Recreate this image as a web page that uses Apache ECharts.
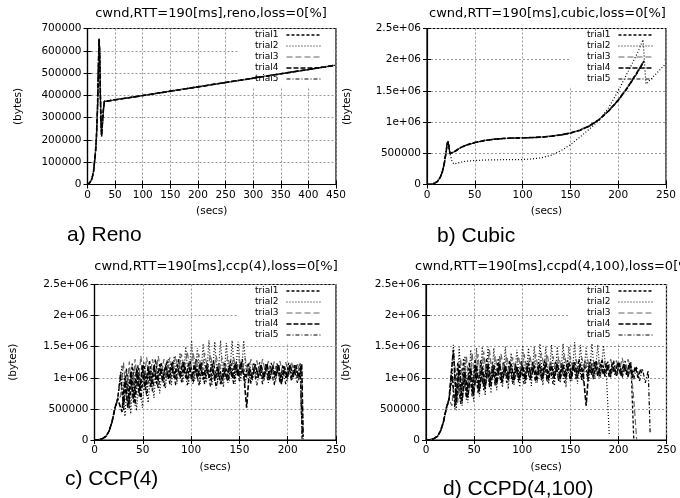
<!DOCTYPE html>
<html><head><meta charset="utf-8">
<script src="https://cdn.jsdelivr.net/npm/echarts@6/dist/echarts.min.js"></script>
<style>html,body{margin:0;padding:0;background:#fff}#c{width:680px;height:498px}</style>
</head><body><div id="c"></div>
<script>
// ---------- text ----------
const trialNames = ['trial1', 'trial2', 'trial3', 'trial4', 'trial5'];
const panelTitles = ['cwnd,RTT=190[ms],reno,loss=0[%]', 'cwnd,RTT=190[ms],cubic,loss=0[%]', 'cwnd,RTT=190[ms],ccp(4),loss=0[%]', 'cwnd,RTT=190[ms],ccpd(4,100),loss=0[%]'];
const panelCaptions = ['a) Reno', 'b) Cubic', 'c) CCP(4)', 'd) CCPD(4,100)'];
const xAxisName = '(secs)';
const yAxisName = '(bytes)';
const renoYTickLabels = ['0', '100000', '200000', '300000', '400000', '500000', '600000', '700000'];
const bytesYTickLabels = ['0', '500000', '1e+06', '1.5e+06', '2e+06', '2.5e+06'];

// ---------- a) Reno ----------
const aTime = [0,4,8,11,14,16,18,19,20,21,22,23,24,25.5,27,29,30.5,50,100,150,200,250,300,350,400,448];
const aTrial1 = [0,8000,25000,60000,130000,200000,330000,430000,560000,655000,600000,450000,320000,215000,270000,340000,373000,380000,399000,419000,438000,458000,477000,497000,516000,535000];
const aTrial2 = [0,8000,26000,62000,135000,210000,340000,440000,570000,650000,590000,440000,310000,222000,280000,345000,374000,381000,400000,420000,439000,459000,478000,498000,517000,536000];
const aTrial3 = [0,7000,24000,58000,125000,195000,320000,420000,550000,645000,610000,460000,330000,218000,265000,335000,371000,379000,398000,418000,437000,457000,476000,496000,515000,534000];
const aTrial4 = [0,8000,25000,61000,132000,205000,335000,435000,565000,652000,595000,445000,315000,220000,275000,342000,372000,380000,399000,419000,438000,458000,477000,497000,516000,535000];
const aTrial5 = [0,8000,25000,60000,128000,198000,325000,425000,555000,648000,605000,455000,325000,216000,268000,338000,372000,380000,399000,418000,438000,457000,477000,496000,516000,535000];

// ---------- b) Cubic ----------
const bTime = [0,4,8,11,14,16,18,20,21,22,23,24,26,28,30,35,40,50,60,70,80,90,100,110,120,130,140,150,160,170,180,190,200,210,220,227];
const bTrial1 = [0,5000,20000,50000,120000,200000,330000,520000,650000,690000,600000,495000,505000,520000,550000,590000,625000,672000,705000,725000,738000,745000,748000,752000,760000,775000,795000,825000,870000,940000,1040000,1180000,1350000,1560000,1800000,1980000];
const b2Time = [0,4,8,11,14,16,18,20,21,22,23,24,26,28,30,40,50,60,80,100,110,120,130,140,150,160,170,180,190,200,210,220,226,229,240,250];
const bTrial2 = [0,5000,20000,50000,120000,200000,330000,520000,650000,690000,600000,500000,380000,330000,345000,372000,385000,392000,398000,400000,410000,430000,470000,540000,638000,760000,890000,1030000,1230000,1500000,1800000,2100000,2320000,1610000,1780000,1940000];
const bTrial3 = [0,5000,19000,48000,115000,195000,320000,510000,640000,685000,610000,500000,510000,525000,552000,592000,628000,675000,707000,727000,740000,746000,749000,753000,762000,777000,798000,828000,875000,945000,1045000,1190000,1360000,1570000,1810000,1990000];
const bTrial4 = [0,5000,20000,50000,120000,200000,330000,520000,650000,690000,600000,495000,505000,520000,550000,590000,625000,672000,705000,725000,738000,745000,748000,752000,760000,775000,795000,825000,870000,940000,1040000,1180000,1350000,1560000,1800000,1975000];
const bTrial5 = [0,6000,21000,52000,125000,205000,340000,530000,660000,695000,590000,490000,500000,518000,548000,588000,622000,670000,703000,723000,736000,743000,747000,751000,758000,772000,792000,822000,866000,935000,1035000,1175000,1345000,1550000,1790000,1970000];

// ---------- c) CCP(4) ----------
const cTimeA = [0,4,8,12,15,18,21,24,
  27,30,33,36,39,42,45,48,51,54,57,60,63,66,69,72,75,78,81,84,87,90,93,96,99,102,105,108,111,114,117,120,
  123,126,129,132,135,138,141,144,147,150,153,156,159,162,165,168,171,174,177,180,183,186,189,192,195,198,201,204,207,210,213,
  215];
const cTimeB = [0,4,8,12,15,18,21,24,
  28.5,31.5,34.5,37.5,40.5,43.5,46.5,49.5,52.5,55.5,58.5,61.5,64.5,67.5,70.5,73.5,76.5,79.5,82.5,85.5,88.5,91.5,94.5,97.5,100.5,
  103.5,106.5,109.5,112.5,115.5,118.5,121.5,124.5,127.5,130.5,133.5,136.5,139.5,142.5,145.5,148.5,151.5,154.5,157.5,160.5,163.5,
  166.5,169.5,172.5,175.5,178.5,181.5,184.5,187.5,190.5,193.5,196.5,199.5,202.5,205.5,208.5,211.5,214.5,
  216];
const cTrial1 = [0,5000,20000,60000,140000,280000,500000,660000,
  1020000,560000,1150000,620000,1230000,720000,1200000,800000,1250000,
  880000,1280000,900000,1300000,950000,1250000,980000,1280000,1000000,
  1270000,980000,1300000,1020000,1250000,960000,1280000,1000000,1300000,
  1010000,1260000,980000,1240000,960000,1270000,1000000,1230000,950000,
  1250000,1000000,1280000,990000,1260000,1020000,1300000,1000000,1240000,
  980000,1230000,1000000,1250000,970000,1220000,990000,1240000,1000000,
  1230000,960000,1210000,1000000,1240000,980000,1220000,1000000,1230000,
  0];
const cTrial2 = [0,5000,21000,62000,145000,290000,510000,670000,
  1200000,380000,1050000,420000,1150000,470000,1100000,520000,1150000,
  600000,1180000,680000,1250000,750000,1200000,830000,1300000,880000,
  1350000,900000,1400000,920000,1500000,900000,1600000,950000,1480000,
  900000,1550000,920000,1600000,880000,1580000,930000,1600000,850000,
  1560000,950000,1600000,900000,1580000,950000,1600000,1000000,1250000,
  950000,1200000,980000,1220000,950000,1200000,1000000,1180000,940000,
  1200000,900000,1180000,950000,1200000,980000,1180000,950000,1150000,
  0];
const cTrial3 = [0,4000,19000,58000,135000,270000,490000,650000,
  700000,1250000,650000,1260000,700000,1300000,850000,1350000,900000,
  1330000,950000,1300000,1050000,1350000,1080000,1300000,1100000,1330000,
  1120000,1350000,1100000,1380000,1150000,1420000,1120000,1400000,1150000,
  1380000,1100000,1400000,1150000,1370000,1120000,1350000,1100000,1330000,
  1120000,1350000,1100000,1330000,1080000,1300000,1100000,1320000,1080000,
  1300000,1100000,1280000,1050000,1300000,1080000,1270000,1050000,1260000,
  1080000,1270000,1050000,1250000,1060000,1260000,1040000,1240000,1050000,
  0];
const cTrial4 = [0,5000,20000,60000,142000,285000,505000,665000,
  450000,1000000,520000,1100000,600000,1150000,700000,1200000,800000,
  1180000,850000,1200000,900000,1220000,950000,1200000,980000,1230000,
  1000000,1210000,1020000,1250000,1000000,1230000,980000,1210000,1000000,
  1240000,970000,1200000,1000000,1220000,950000,1180000,900000,1150000,
  980000,1200000,1000000,1230000,1020000,1250000,1050000,520000,1150000,
  1000000,1220000,1020000,1200000,1000000,1230000,980000,1200000,1010000,
  1220000,900000,1180000,1000000,1210000,1020000,1200000,1000000,1220000,
  50000];
const cTrial5 = [0,5000,20000,61000,138000,275000,495000,655000,
  1100000,480000,950000,500000,1050000,550000,1100000,650000,1100000,
  700000,1150000,780000,1100000,820000,1150000,850000,1120000,900000,
  1180000,880000,1150000,920000,1200000,880000,1150000,900000,1180000,
  870000,1130000,900000,1170000,860000,1150000,830000,1120000,900000,
  1150000,920000,1180000,900000,1200000,950000,1150000,920000,1130000,
  900000,1150000,880000,1120000,900000,1150000,920000,1130000,880000,
  1150000,930000,1120000,900000,1150000,950000,1130000,920000,1100000,
  30000];

// ---------- d) CCPD(4,100) ----------
const dTimeA = [0,4,8,12,15,18,21,24,
  27,30,33,36,39,42,45,48,51,54,57,60,63,66,69,72,75,78,81,84,87,90,93,96,99,102,105,108,111,114,117,120,
  123,126,129,132,135,138,141,144,147,150,153,156,159,162,165,168,171,174,177,180,183,186,189,192,195,198,201,204,207,210,213,
  216,219,222,225,228,231,
  233];
const dTimeB = [0,4,8,12,15,18,21,24,
  28.5,31.5,34.5,37.5,40.5,43.5,46.5,49.5,52.5,55.5,58.5,61.5,64.5,67.5,70.5,73.5,76.5,79.5,82.5,85.5,88.5,91.5,94.5,97.5,100.5,
  103.5,106.5,109.5,112.5,115.5,118.5,121.5,124.5,127.5,130.5,133.5,136.5,139.5,142.5,145.5,148.5,151.5,154.5,157.5,160.5,163.5,
  166.5,169.5,172.5,175.5,178.5,181.5,184.5,187.5,190.5,193.5,196.5,199.5,202.5,205.5,208.5,211.5,214.5,217.5,220.5,223.5];
const dTrial1 = [0,5000,20000,60000,140000,280000,500000,660000,
  1000000,600000,1250000,650000,1300000,700000,1250000,750000,1300000,
  820000,1280000,850000,1320000,900000,1250000,920000,1300000,950000,
  1250000,980000,1280000,950000,1230000,1000000,1260000,980000,1240000,
  1000000,1270000,960000,1250000,1000000,1280000,980000,1240000,1000000,
  1260000,950000,1230000,1000000,1280000,980000,1250000,1020000,1300000,
  1000000,1270000,1050000,1300000,1030000,1280000,1050000,1300000,1020000,
  1260000,1050000,1280000,1030000,1250000,1050000,1270000,1020000,1250000,
  0];
const dTrial2 = [0,5000,21000,62000,145000,290000,510000,670000,
  1530000,480000,1500000,550000,1350000,600000,1450000,620000,1480000,
  700000,1500000,720000,1500000,750000,1480000,800000,1350000,850000,
  1500000,820000,1400000,880000,1450000,850000,1520000,900000,1480000,
  870000,1500000,920000,1550000,880000,1500000,900000,1530000,870000,
  1500000,920000,1550000,850000,1500000,950000,1570000,900000,1530000,
  930000,1500000,950000,1550000,980000,1530000,1000000,1520000,1050000,
  80000];
const dTrial3 = [0,4000,19000,58000,135000,270000,490000,650000,
  550000,1200000,600000,1300000,750000,1350000,800000,1400000,850000,
  1380000,900000,1420000,950000,1450000,1000000,1350000,1050000,1380000,
  1100000,1350000,1080000,1330000,1100000,1350000,1120000,1380000,1100000,
  1350000,1120000,1380000,1100000,1400000,1150000,1380000,1120000,1350000,
  1100000,1330000,1150000,1380000,1100000,1350000,1120000,1300000,1100000,
  1330000,1120000,1300000,1080000,1280000,1100000,1300000,1080000,1270000,
  1100000,1300000,1080000,1280000,1100000,1320000,1080000,1300000,1150000,
  650000,0];
const dTrial4 = [0,5000,20000,60000,142000,285000,505000,665000,
  1450000,600000,1200000,620000,1100000,680000,1150000,720000,1200000,
  780000,1180000,820000,1220000,870000,1200000,900000,1230000,930000,
  1200000,960000,1220000,950000,1180000,980000,1200000,960000,1230000,
  1000000,1200000,970000,1220000,990000,1250000,960000,1200000,1000000,
  1230000,980000,1210000,1000000,1240000,1020000,1250000,1000000,1220000,
  1050000,550000,1200000,1050000,1250000,1030000,1220000,1050000,1240000,
  1020000,1230000,1050000,1250000,1030000,1220000,1050000,1240000,1000000,
  1180000,1000000,1150000];
const dTrial5 = [0,5000,20000,61000,138000,275000,495000,655000,
  1150000,500000,1000000,580000,1100000,650000,1150000,700000,1200000,
  750000,1150000,800000,1200000,850000,1150000,870000,1200000,900000,
  1150000,920000,1180000,900000,1200000,930000,1150000,900000,1180000,
  950000,1200000,920000,1170000,950000,1200000,930000,1180000,900000,
  1150000,950000,1200000,920000,1180000,950000,1220000,980000,1200000,
  950000,1180000,1000000,1200000,980000,1230000,1000000,1200000,1020000,
  1220000,1000000,1250000,1020000,1230000,1000000,1200000,1000000,1220000,
  980000,1180000,950000,1150000,920000,1120000,
  110000];

// ---------- build ----------
function pairUp(times, vals) {
  const out = [];
  const n = Math.min(times.length, vals.length);
  for (let i = 0; i < n; i++) out.push([times[i], vals[i]]);
  return out;
}
const panelSeries = [
  [[aTime, aTrial1], [aTime, aTrial2], [aTime, aTrial3], [aTime, aTrial4], [aTime, aTrial5]],
  [[bTime, bTrial1], [b2Time, bTrial2], [bTime, bTrial3], [bTime, bTrial4], [bTime, bTrial5]],
  [[cTimeA, cTrial1], [cTimeB, cTrial2], [cTimeA, cTrial3], [cTimeB, cTrial4], [cTimeA, cTrial5]],
  [[dTimeA, dTrial1], [dTimeB, dTrial2], [dTimeA, dTrial3], [dTimeB, dTrial4], [dTimeA, dTrial5]]
];

const FONT = '"DejaVu Sans", sans-serif';
const trialStyles = [
  { color: '#000', width: 1.3, type: [3, 2] },
  { color: '#000', width: 1.2, type: [1, 2] },
  { color: '#666', width: 1.2, type: [6, 3] },
  { color: '#000', width: 1.6, type: [5, 2] },
  { color: '#000', width: 1.2, type: [4, 2, 1, 2] }
];

const panels = [
  { grid: { left: 87.5, top: 28.5, width: 248.5, height: 156 }, xMax: 450, yMax: 700000, yInt: 100000, yLabels: renoYTickLabels, yNameGap: 64, xNameGap: 21,
    title: { x: 211, y: 14, align: 'center' }, caption: { x: 67, y: 235 }, legend: { left: 238, top: 29.5, padR: 12 } },
  { grid: { left: 427, top: 28.5, width: 239, height: 156 }, xMax: 250, yMax: 2500000, yInt: 500000, yLabels: bytesYTickLabels, yNameGap: 74, xNameGap: 21,
    title: { x: 547.5, y: 14, align: 'center' }, caption: { x: 437, y: 236 }, legend: { left: 570, top: 29.5, padR: 11 } },
  { grid: { left: 94.5, top: 284.5, width: 241.5, height: 155.5 }, xMax: 250, yMax: 2500000, yInt: 500000, yLabels: bytesYTickLabels, yNameGap: 76, xNameGap: 22,
    title: { x: 216, y: 267, align: 'center' }, caption: { x: 65, y: 479 }, legend: { left: 238, top: 285.5, padR: 12 } },
  { grid: { left: 426, top: 284.5, width: 240.5, height: 155.5 }, xMax: 250, yMax: 2500000, yInt: 500000, yLabels: bytesYTickLabels, yNameGap: 74, xNameGap: 22,
    title: { x: 415, y: 267, align: 'left' }, caption: { x: 443, y: 489 }, legend: { left: 570, top: 285.5, padR: 11 } }
];

const grids = [], xAxes = [], yAxes = [], series = [], legends = [], graphics = [];
const axisTextStyle = { color: '#000', fontSize: 10.5, fontFamily: FONT };
const gridLine = { show: true, lineStyle: { color: '#999', width: 1, type: [2, 2] } };
const tickStyle = { show: true, inside: true, length: 4, lineStyle: { color: '#000', width: 1 } };

panels.forEach((p, i) => {
  grids.push(Object.assign({ show: true, borderColor: '#000', borderWidth: 1.2, backgroundColor: 'transparent', containLabel: false }, p.grid));
  xAxes.push({ type: 'value', gridIndex: i, min: 0, max: p.xMax, interval: 50, position: 'bottom',
    axisLine: { show: true, onZero: false, lineStyle: { color: '#000', width: 1.2 } }, axisTick: tickStyle,
    axisLabel: Object.assign({ margin: 5 }, axisTextStyle), splitLine: gridLine,
    name: xAxisName, nameLocation: 'middle', nameGap: p.xNameGap, nameTextStyle: axisTextStyle });
  const labs = p.yLabels, step = p.yInt;
  yAxes.push({ type: 'value', gridIndex: i, min: 0, max: p.yMax, interval: p.yInt, position: 'left',
    axisLine: { show: true, onZero: false, lineStyle: { color: '#000', width: 1.2 } }, axisTick: tickStyle,
    axisLabel: Object.assign({ margin: 6, formatter: v => labs[Math.round(v / step)] }, axisTextStyle), splitLine: gridLine,
    name: yAxisName, nameLocation: 'middle', nameGap: p.yNameGap, nameTextStyle: axisTextStyle });
  graphics.push({ type: 'text', x: p.title.x, y: p.title.y, z: 10,
    style: { text: panelTitles[i], font: '13px ' + FONT, fill: '#000', textAlign: p.title.align, align: p.title.align, textVerticalAlign: 'middle', verticalAlign: 'middle' } });
  graphics.push({ type: 'text', x: p.caption.x, y: p.caption.y, z: 10,
    style: { text: panelCaptions[i], font: '21px "Liberation Sans", Arial, sans-serif', fill: '#000', textAlign: 'left', align: 'left', textVerticalAlign: 'middle', verticalAlign: 'middle' } });
  legends.push({ show: true, orient: 'vertical', left: p.legend.left, top: p.legend.top, align: 'right',
    itemWidth: 34, itemHeight: 9, itemGap: 2, padding: [1, p.legend.padR, 3, 17], backgroundColor: '#fff', z: 1,
    selectedMode: false, textStyle: { fontSize: 9, fontFamily: FONT, color: '#000', padding: [0, 3, 0, 0] },
    itemStyle: { color: 'rgba(0,0,0,0)', borderWidth: 0, opacity: 0 },
    data: trialNames.map((n, k) => ({ name: n, lineStyle: trialStyles[k], itemStyle: { color: 'rgba(0,0,0,0)', borderWidth: 0, opacity: 0 } })) });
  panelSeries[i].forEach((pair, k) => {
    series.push({ type: 'line', name: trialNames[k], xAxisIndex: i, yAxisIndex: i, data: pairUp(pair[0], pair[1]),
      symbol: 'none', showSymbol: false, silent: true, z: 2, lineStyle: trialStyles[k], itemStyle: { color: trialStyles[k].color },
      emphasis: { disabled: true }, animation: false });
  });
});
panels.forEach((p, i) => {
  xAxes.push({ type: 'value', gridIndex: i, min: 0, max: p.xMax, interval: 50, position: 'top',
    axisLine: { show: false }, axisTick: tickStyle, axisLabel: { show: false }, splitLine: { show: false } });
  yAxes.push({ type: 'value', gridIndex: i, min: 0, max: p.yMax, interval: p.yInt, position: 'right',
    axisLine: { show: false }, axisTick: tickStyle, axisLabel: { show: false }, splitLine: { show: false } });
});

const chart = echarts.init(document.getElementById('c'), null, { renderer: 'canvas' });
chart.setOption({
  backgroundColor: '#fff',
  animation: false,
  grid: grids, xAxis: xAxes, yAxis: yAxes, series: series, legend: legends, graphic: graphics
});
</script></body></html>
